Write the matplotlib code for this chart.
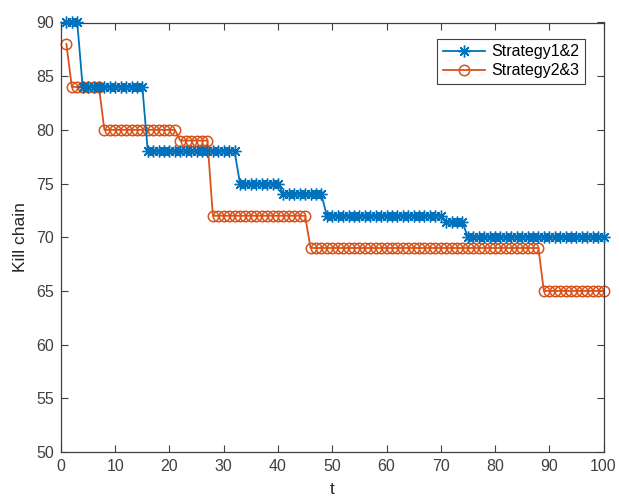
import numpy as np
import matplotlib
matplotlib.use("Agg")
import matplotlib.pyplot as plt

# step levels: (first t, last t, value)
t = np.arange(1, 101)

steps12 = [(1, 3, 90), (4, 15, 84), (16, 32, 78), (33, 40, 75), (41, 48, 74),
           (49, 70, 72), (71, 74, 71.4), (75, 100, 70)]
steps23 = [(1, 1, 88), (2, 7, 84), (8, 21, 80), (22, 27, 79), (28, 45, 72),
           (46, 88, 69), (89, 100, 65)]

def expand(steps):
    y = np.zeros(len(t))
    for a, b, v in steps:
        y[(t >= a) & (t <= b)] = v
    return y

s12 = expand(steps12)
s23 = expand(steps23)

plt.rcParams['font.family'] = ['Liberation Sans', 'DejaVu Sans']
plt.rcParams['font.size'] = 12

fig = plt.figure(figsize=(6.19, 5.0), dpi=100)
ax = fig.add_axes([0.0985, 0.096, 0.8765, 0.859])

blue = '#0072BD'
orange = '#D95319'
ax.plot(t, s12, color=blue, marker=(8, 2, 0), ms=8.5, mew=1.0, lw=1.3,
        label='Strategy1&2', clip_on=False, zorder=3)
ax.plot(t, s23, color=orange, marker='o', ms=7.5, mfc='none', mew=1.1, lw=1.3,
        label='Strategy2&3', clip_on=False, zorder=2)

ax.set_xlim(0, 100)
ax.set_ylim(50, 90)
ax.set_xticks(np.arange(0, 101, 10))
ax.set_yticks(np.arange(50, 91, 5))
ax.tick_params(direction='in', top=True, right=True, length=5, colors='#404040',
               labelsize=11.5, pad=5)
for sp in ax.spines.values():
    sp.set_color('#404040')
    sp.set_linewidth(0.9)

ax.set_xlabel('t', fontsize=12.5, color='#262626', labelpad=6)
ax.set_ylabel('Kill chain', fontsize=12.5, color='#262626', labelpad=6)

leg = ax.legend(loc='upper right', bbox_to_anchor=(0.965, 0.962), borderaxespad=0,
                fancybox=False, edgecolor='#404040', framealpha=1, fontsize=11.5,
                handlelength=2.6, borderpad=0.35, labelspacing=0.25, handletextpad=0.4)
leg.get_frame().set_linewidth(0.8)

fig.savefig('out.png', dpi=100)
